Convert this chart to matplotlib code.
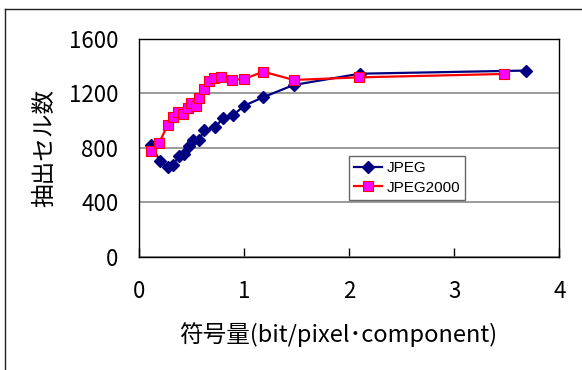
import matplotlib
matplotlib.use('Agg')
import matplotlib.pyplot as plt
from matplotlib.lines import Line2D

plt.rcParams['font.family'] = ['Noto Sans CJK JP', 'DejaVu Sans']

# JPEG (navy diamonds)
jpeg_x = [0.11, 0.20, 0.27, 0.32, 0.38, 0.43, 0.47, 0.51, 0.57, 0.62,
          0.72, 0.80, 0.89, 1.00, 1.18, 1.47, 2.10, 3.68]
jpeg_y = [820, 700, 658, 675, 740, 755, 815, 858, 860, 930,
          950, 1020, 1038, 1110, 1172, 1262, 1345, 1368]

# JPEG2000 (magenta squares)
j2k_x = [0.11, 0.19, 0.27, 0.32, 0.37, 0.42, 0.46, 0.49, 0.54, 0.57,
         0.62, 0.66, 0.71, 0.78, 0.88, 1.00, 1.18, 1.47, 2.09, 3.47]
j2k_y = [780, 838, 968, 1030, 1065, 1050, 1090, 1127, 1108, 1165,
         1230, 1290, 1312, 1318, 1300, 1306, 1360, 1299, 1318, 1343]

x_ticks = [0, 1, 2, 3, 4]
y_ticks = [0, 400, 800, 1200, 1600]

W, H = 582, 370
fig = plt.figure(figsize=(W / 100, H / 100), dpi=100)
ax = fig.add_axes([139.3 / W, 1 - 256.7 / H, 420 / W, 217.7 / H])

ax.plot(jpeg_x, jpeg_y, color='#000080', lw=1.6, marker='D', ms=6.5,
        mfc='#000080', mec='#000080', label='JPEG', zorder=3)
ax.plot(j2k_x, j2k_y, color='#ff0000', lw=1.6, marker='s', ms=7.5,
        mfc='#ff00ff', mec='#ff0000', mew=0.8, label='JPEG2000', zorder=4)

ax.set_xlim(0, 4)
ax.set_ylim(0, 1600)
ax.set_xticks(x_ticks)
ax.set_yticks(y_ticks)
ax.yaxis.grid(True, color='#808080', lw=1.1)
ax.set_axisbelow(True)
ax.tick_params(axis='x', direction='in', length=6.5, width=1,
               pad=17, labelsize=16)
ax.tick_params(axis='y', length=0, pad=15, labelsize=16)
for s in ax.spines.values():
    s.set_linewidth(1)

ax.set_ylabel('抽出セル数', fontsize=17)
ax.yaxis.set_label_coords(-0.198, 0.5)
ax.set_xlabel('符号量(bit/pixel･component)', fontsize=17)
ax.xaxis.set_label_coords(0.473, -0.30)

leg = ax.legend(loc='upper left', bbox_to_anchor=(0.499, 0.4626),
                frameon=True, fancybox=False, borderaxespad=0,
                prop={'family': 'Liberation Sans', 'size': 11},
                handlelength=1.8, handletextpad=0.3, borderpad=0.35,
                labelspacing=0.35)
leg.get_frame().set_edgecolor('#404040')
leg.get_frame().set_linewidth(1)

# outer chart frame (left and top edges visible)
fig.add_artist(Line2D([4.7 / W, 4.7 / W], [0, 1 - 9.3 / H],
                      color='#202020', lw=1))
fig.add_artist(Line2D([4.7 / W, 1], [1 - 9.3 / H, 1 - 9.3 / H],
                      color='#202020', lw=1))

fig.savefig('out.png', dpi=100)
